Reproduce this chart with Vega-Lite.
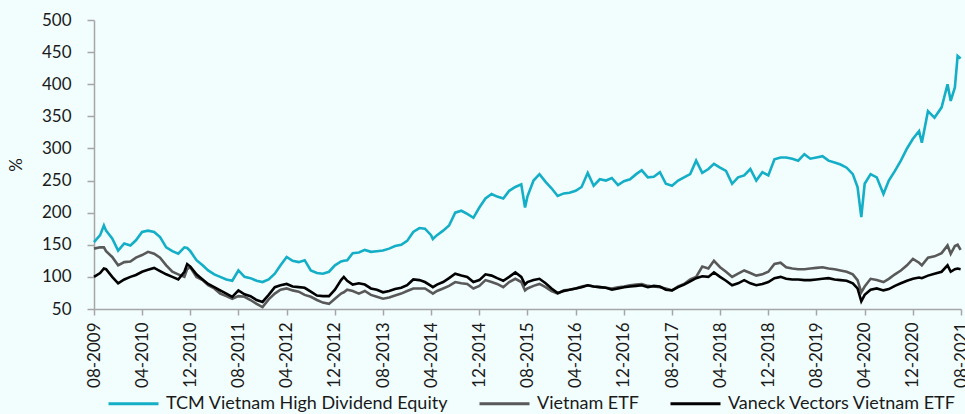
{
  "$schema": "https://vega.github.io/schema/vega-lite/v6.json",
  "width": 867,
  "height": 289,
  "autosize": {"type": "none"},
  "padding": {"left": 94, "top": 20, "right": 4, "bottom": 105},
  "background": "#F2FEFE",
  "config": {
    "view": {"stroke": null},
    "font": "Lato",
    "axis": {"labelFont": "Lato", "titleFont": "Lato", "labelColor": "#1a1a1a", "titleColor": "#1a1a1a", "grid": false, "domainColor": "#A6A6A6", "tickColor": "#A6A6A6", "domainWidth": 1.5, "tickWidth": 1.5},
    "legend": {"labelFont": "Lato", "labelColor": "#1a1a1a"}
  },
  "data": {"values": [
    {"d":"2009-08-01","T":154,"V":144,"K":100},
    {"d":"2009-09-01","T":165,"V":146,"K":106},
    {"d":"2009-09-20","T":180,"V":146,"K":113},
    {"d":"2009-10-01","T":172,"V":140,"K":112},
    {"d":"2009-11-01","T":160,"V":131,"K":100},
    {"d":"2009-12-01","T":141,"V":118,"K":90},
    {"d":"2010-01-01","T":152,"V":123,"K":96},
    {"d":"2010-02-01","T":149,"V":124,"K":100},
    {"d":"2010-03-01","T":157,"V":130,"K":103},
    {"d":"2010-04-01","T":170,"V":134,"K":108},
    {"d":"2010-05-01","T":172,"V":139,"K":111},
    {"d":"2010-06-01","T":170,"V":136,"K":114},
    {"d":"2010-07-01","T":162,"V":130,"K":109},
    {"d":"2010-08-01","T":146,"V":118,"K":104},
    {"d":"2010-09-01","T":140,"V":108,"K":100},
    {"d":"2010-10-01","T":136,"V":104,"K":96},
    {"d":"2010-11-01","T":146,"V":100,"K":108},
    {"d":"2010-11-15","T":145,"V":112,"K":120},
    {"d":"2010-12-01","T":140,"V":115,"K":116},
    {"d":"2011-01-01","T":126,"V":100,"K":104},
    {"d":"2011-02-01","T":118,"V":95,"K":96},
    {"d":"2011-03-01","T":110,"V":87,"K":89},
    {"d":"2011-04-01","T":104,"V":82,"K":84},
    {"d":"2011-05-01","T":100,"V":74,"K":79},
    {"d":"2011-06-01","T":96,"V":70,"K":74},
    {"d":"2011-07-01","T":94,"V":66,"K":69},
    {"d":"2011-08-01","T":110,"V":70,"K":79},
    {"d":"2011-09-01","T":100,"V":69,"K":73},
    {"d":"2011-10-01","T":98,"V":64,"K":70},
    {"d":"2011-11-01","T":94,"V":58,"K":64},
    {"d":"2011-12-01","T":92,"V":53,"K":61},
    {"d":"2012-01-01","T":96,"V":65,"K":72},
    {"d":"2012-02-01","T":105,"V":74,"K":84},
    {"d":"2012-03-01","T":118,"V":80,"K":87},
    {"d":"2012-04-01","T":131,"V":82,"K":89},
    {"d":"2012-05-01","T":125,"V":79,"K":85},
    {"d":"2012-06-01","T":123,"V":77,"K":84},
    {"d":"2012-07-01","T":126,"V":72,"K":83},
    {"d":"2012-08-01","T":110,"V":69,"K":77},
    {"d":"2012-09-01","T":106,"V":64,"K":71},
    {"d":"2012-10-01","T":105,"V":60,"K":70},
    {"d":"2012-11-01","T":108,"V":58,"K":70},
    {"d":"2012-12-01","T":118,"V":66,"K":80},
    {"d":"2013-01-01","T":124,"V":74,"K":95},
    {"d":"2013-01-15","T":125,"V":76,"K":100},
    {"d":"2013-02-01","T":126,"V":80,"K":94},
    {"d":"2013-03-01","T":137,"V":78,"K":88},
    {"d":"2013-04-01","T":138,"V":74,"K":90},
    {"d":"2013-05-01","T":142,"V":78,"K":88},
    {"d":"2013-06-01","T":139,"V":72,"K":82},
    {"d":"2013-07-01","T":140,"V":69,"K":80},
    {"d":"2013-08-01","T":141,"V":66,"K":76},
    {"d":"2013-09-01","T":144,"V":68,"K":78},
    {"d":"2013-10-01","T":148,"V":71,"K":81},
    {"d":"2013-11-01","T":150,"V":74,"K":83},
    {"d":"2013-12-01","T":156,"V":78,"K":87},
    {"d":"2014-01-01","T":170,"V":82,"K":96},
    {"d":"2014-02-01","T":176,"V":82,"K":95},
    {"d":"2014-03-01","T":175,"V":82,"K":92},
    {"d":"2014-04-01","T":165,"V":76,"K":86},
    {"d":"2014-04-10","T":159,"V":74,"K":84},
    {"d":"2014-05-01","T":165,"V":78,"K":88},
    {"d":"2014-06-01","T":172,"V":82,"K":92},
    {"d":"2014-07-01","T":180,"V":86,"K":98},
    {"d":"2014-08-01","T":200,"V":92,"K":105},
    {"d":"2014-09-01","T":203,"V":90,"K":102},
    {"d":"2014-10-01","T":198,"V":89,"K":100},
    {"d":"2014-11-01","T":192,"V":82,"K":92},
    {"d":"2014-12-01","T":208,"V":86,"K":95},
    {"d":"2015-01-01","T":222,"V":95,"K":104},
    {"d":"2015-02-01","T":229,"V":92,"K":102},
    {"d":"2015-03-01","T":225,"V":89,"K":98},
    {"d":"2015-04-01","T":222,"V":84,"K":94},
    {"d":"2015-05-01","T":234,"V":92,"K":100},
    {"d":"2015-06-01","T":240,"V":97,"K":107},
    {"d":"2015-07-01","T":244,"V":92,"K":100},
    {"d":"2015-07-20","T":208,"V":79,"K":88},
    {"d":"2015-08-01","T":225,"V":82,"K":92},
    {"d":"2015-09-01","T":250,"V":86,"K":95},
    {"d":"2015-10-01","T":260,"V":89,"K":97},
    {"d":"2015-11-01","T":248,"V":84,"K":90},
    {"d":"2015-12-01","T":238,"V":78,"K":82},
    {"d":"2016-01-01","T":226,"V":74,"K":75},
    {"d":"2016-02-01","T":230,"V":79,"K":78},
    {"d":"2016-03-01","T":231,"V":80,"K":80},
    {"d":"2016-04-01","T":234,"V":82,"K":82},
    {"d":"2016-05-01","T":240,"V":85,"K":84},
    {"d":"2016-06-01","T":262,"V":87,"K":87},
    {"d":"2016-07-01","T":242,"V":85,"K":85},
    {"d":"2016-08-01","T":252,"V":84,"K":84},
    {"d":"2016-09-01","T":250,"V":83,"K":83},
    {"d":"2016-10-01","T":254,"V":82,"K":80},
    {"d":"2016-11-01","T":243,"V":84,"K":82},
    {"d":"2016-12-01","T":249,"V":85,"K":84},
    {"d":"2017-01-01","T":252,"V":87,"K":85},
    {"d":"2017-02-01","T":260,"V":88,"K":86},
    {"d":"2017-03-01","T":266,"V":89,"K":87},
    {"d":"2017-04-01","T":255,"V":86,"K":84},
    {"d":"2017-05-01","T":256,"V":85,"K":86},
    {"d":"2017-06-01","T":263,"V":84,"K":85},
    {"d":"2017-07-01","T":245,"V":82,"K":80},
    {"d":"2017-08-01","T":242,"V":79,"K":79},
    {"d":"2017-09-01","T":250,"V":85,"K":84},
    {"d":"2017-10-01","T":255,"V":89,"K":88},
    {"d":"2017-11-01","T":260,"V":96,"K":93},
    {"d":"2017-12-01","T":281,"V":100,"K":98},
    {"d":"2018-01-01","T":262,"V":116,"K":101},
    {"d":"2018-02-01","T":268,"V":113,"K":100},
    {"d":"2018-03-01","T":276,"V":125,"K":107},
    {"d":"2018-04-01","T":270,"V":115,"K":100},
    {"d":"2018-05-01","T":265,"V":108,"K":94},
    {"d":"2018-06-01","T":245,"V":100,"K":87},
    {"d":"2018-07-01","T":255,"V":105,"K":90},
    {"d":"2018-08-01","T":258,"V":110,"K":95},
    {"d":"2018-09-01","T":268,"V":106,"K":90},
    {"d":"2018-10-01","T":250,"V":102,"K":87},
    {"d":"2018-11-01","T":263,"V":104,"K":89},
    {"d":"2018-12-01","T":258,"V":108,"K":92},
    {"d":"2019-01-01","T":283,"V":120,"K":98},
    {"d":"2019-02-01","T":286,"V":122,"K":100},
    {"d":"2019-03-01","T":286,"V":115,"K":97},
    {"d":"2019-04-01","T":284,"V":113,"K":96},
    {"d":"2019-05-01","T":281,"V":112,"K":96},
    {"d":"2019-06-01","T":291,"V":112,"K":95},
    {"d":"2019-07-01","T":284,"V":113,"K":95},
    {"d":"2019-08-01","T":286,"V":114,"K":96},
    {"d":"2019-09-01","T":288,"V":115,"K":97},
    {"d":"2019-10-01","T":281,"V":113,"K":98},
    {"d":"2019-11-01","T":278,"V":112,"K":96},
    {"d":"2019-12-01","T":275,"V":110,"K":95},
    {"d":"2020-01-01","T":270,"V":108,"K":94},
    {"d":"2020-02-01","T":260,"V":104,"K":90},
    {"d":"2020-02-25","T":240,"V":95,"K":82},
    {"d":"2020-03-15","T":193,"V":76,"K":62},
    {"d":"2020-04-01","T":245,"V":85,"K":72},
    {"d":"2020-05-01","T":260,"V":97,"K":80},
    {"d":"2020-06-01","T":255,"V":95,"K":82},
    {"d":"2020-07-05","T":229,"V":92,"K":79},
    {"d":"2020-08-01","T":250,"V":97,"K":81},
    {"d":"2020-09-01","T":265,"V":104,"K":86},
    {"d":"2020-10-01","T":281,"V":110,"K":90},
    {"d":"2020-11-01","T":300,"V":118,"K":94},
    {"d":"2020-12-01","T":315,"V":128,"K":97},
    {"d":"2021-01-01","T":327,"V":122,"K":99},
    {"d":"2021-01-15","T":309,"V":118,"K":98},
    {"d":"2021-02-15","T":358,"V":130,"K":102},
    {"d":"2021-03-20","T":348,"V":132,"K":105},
    {"d":"2021-04-25","T":364,"V":137,"K":108},
    {"d":"2021-05-25","T":400,"V":149,"K":118},
    {"d":"2021-06-10","T":374,"V":136,"K":108},
    {"d":"2021-07-01","T":395,"V":148,"K":112},
    {"d":"2021-07-15","T":444,"V":150,"K":113},
    {"d":"2021-07-30","T":440,"V":142,"K":112}
  ]},
  "transform": [{"fold": ["T", "V", "K"], "as": ["s", "v"]}],
  "mark": {"type": "line", "strokeWidth": 2.6, "interpolate": "linear"},
  "encoding": {
    "x": {
      "field": "d", "type": "temporal",
      "scale": {"type": "utc", "domain": [{"year": 2009, "month": 8, "date": 1, "utc": true}, {"year": 2021, "month": 8, "date": 1, "utc": true}]},
      "axis": {
        "title": null,
        "labelExpr": "utcFormat(datum.value, '%m-%Y')",
        "values": [
          {"year": 2009, "month": 8, "date": 1, "utc": true},
          {"year": 2010, "month": 4, "date": 1, "utc": true},
          {"year": 2010, "month": 12, "date": 1, "utc": true},
          {"year": 2011, "month": 8, "date": 1, "utc": true},
          {"year": 2012, "month": 4, "date": 1, "utc": true},
          {"year": 2012, "month": 12, "date": 1, "utc": true},
          {"year": 2013, "month": 8, "date": 1, "utc": true},
          {"year": 2014, "month": 4, "date": 1, "utc": true},
          {"year": 2014, "month": 12, "date": 1, "utc": true},
          {"year": 2015, "month": 8, "date": 1, "utc": true},
          {"year": 2016, "month": 4, "date": 1, "utc": true},
          {"year": 2016, "month": 12, "date": 1, "utc": true},
          {"year": 2017, "month": 8, "date": 1, "utc": true},
          {"year": 2018, "month": 4, "date": 1, "utc": true},
          {"year": 2018, "month": 12, "date": 1, "utc": true},
          {"year": 2019, "month": 8, "date": 1, "utc": true},
          {"year": 2020, "month": 4, "date": 1, "utc": true},
          {"year": 2020, "month": 12, "date": 1, "utc": true},
          {"year": 2021, "month": 8, "date": 1, "utc": true}
        ],
        "labelAngle": -90, "labelAlign": "right", "labelBaseline": "middle",
        "labelFontSize": 17, "tickSize": 6, "labelPadding": 7, "labelOverlap": false, "labelFlush": false
      }
    },
    "y": {
      "field": "v", "type": "quantitative",
      "scale": {"domain": [50, 500], "nice": false, "zero": false},
      "axis": {"title": "%", "titleFontSize": 17, "titleFontWeight": "normal", "titlePadding": 16,
               "values": [50, 100, 150, 200, 250, 300, 350, 400, 450, 500],
               "labelFontSize": 17, "tickSize": 7, "labelPadding": 16}
    },
    "color": {
      "field": "s", "type": "nominal",
      "scale": {"domain": ["T", "V", "K"], "range": ["#14AEC7", "#595959", "#000000"]},
      "legend": {
        "title": null, "orient": "none", "legendX": 13, "legendY": 357, "direction": "horizontal",
        "symbolType": "stroke", "symbolSize": 2500, "symbolStrokeWidth": 3,
        "labelFontSize": 18, "labelOffset": 6, "columnPadding": 24, "labelLimit": 400,
        "labelExpr": "{'T': 'TCM Vietnam High Dividend Equity', 'V': 'Vietnam ETF', 'K': 'Vaneck Vectors Vietnam ETF'}[datum.label]"
      }
    }
  }
}
